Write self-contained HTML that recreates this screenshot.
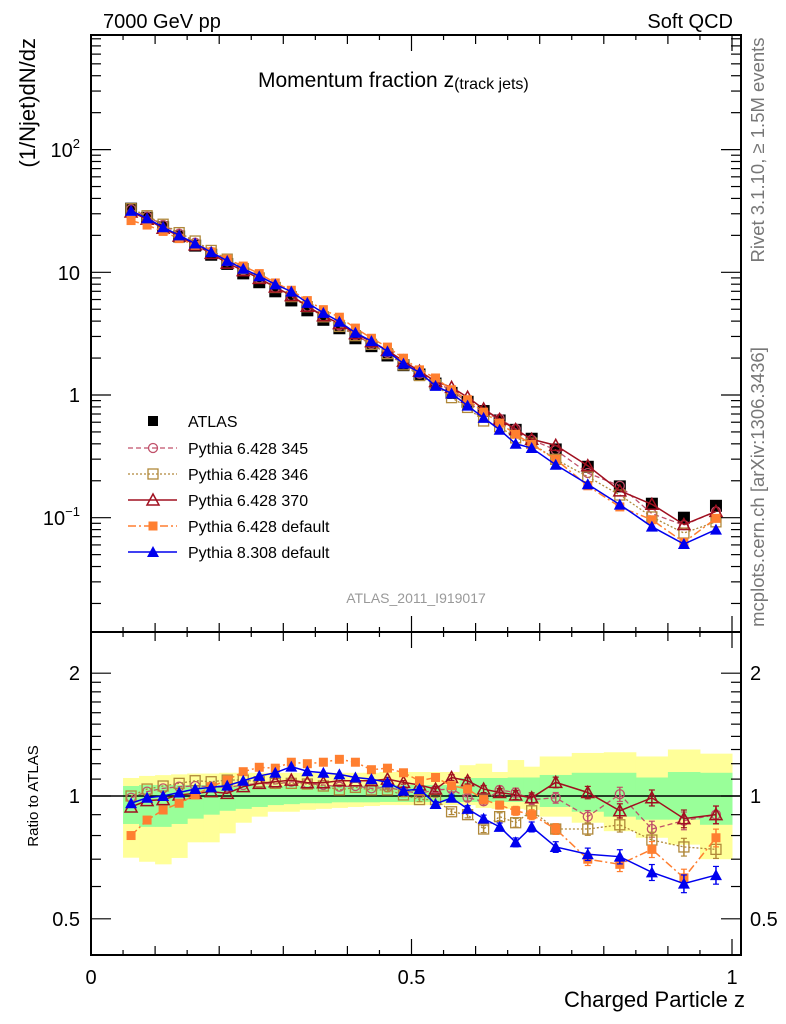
<!DOCTYPE html>
<html><head><meta charset="utf-8"><style>
body{margin:0;background:#fff;}
svg{display:block;font-family:"Liberation Sans",sans-serif;}
</style></head><body>
<svg id="chart" width="786" height="1024" viewBox="0 0 786 1024" xmlns="http://www.w3.org/2000/svg">
<rect x="0" y="0" width="786" height="1024" fill="#fff"/>
<g id="bands"></g><g id="series"></g><g id="axes"></g>
<text x="103" y="28" font-size="20">7000 GeV pp</text>
<text x="733" y="28" font-size="20" text-anchor="end">Soft QCD</text>
<text x="258" y="87" font-size="21">Momentum fraction z<tspan font-size="16" dy="2">(track jets)</tspan></text>
<text transform="translate(35,38) rotate(-90)" font-size="22" text-anchor="end">(1/Njet)dN/dz</text>
<text transform="translate(38,796) rotate(-90)" font-size="15" text-anchor="middle">Ratio to ATLAS</text>
<text x="745" y="1007" font-size="22" text-anchor="end">Charged Particle z</text>
<text transform="translate(764,150) rotate(-90)" font-size="18.5" fill="#777" text-anchor="middle">Rivet 3.1.10, ≥ 1.5M events</text>
<text transform="translate(764,487) rotate(-90)" font-size="18.5" fill="#777" text-anchor="middle">mcplots.cern.ch [arXiv:1306.3436]</text>
<text x="416" y="603" font-size="14" fill="#999" text-anchor="middle">ATLAS_2011_I919017</text>
<g id="legend"></g>
</svg>
<script>
const zVals=[0.0625,0.0875,0.1125,0.1375,0.1625,0.1875,0.2125,0.2375,0.2625,0.2875,0.3125,0.3375,0.3625,0.3875,0.4125,0.4375,0.4625,0.4875,0.5125,0.5375,0.5625,0.5875,0.6125,0.6375,0.6625,0.6875,0.725,0.775,0.825,0.875,0.925,0.975];
const binLo=[0.05,0.075,0.1,0.125,0.15,0.175,0.2,0.225,0.25,0.275,0.3,0.325,0.35,0.375,0.4,0.425,0.45,0.475,0.5,0.525,0.55,0.575,0.6,0.625,0.65,0.675,0.7,0.75,0.8,0.85,0.9,0.95];
const binHi=[0.075,0.1,0.125,0.15,0.175,0.2,0.225,0.25,0.275,0.3,0.325,0.35,0.375,0.4,0.425,0.45,0.475,0.5,0.525,0.55,0.575,0.6,0.625,0.65,0.675,0.7,0.75,0.8,0.85,0.9,0.95,1.0];
const atlasVals=[33,27.8,23.3,19.6,16.5,13.9,11.7,9.8,8.3,7.0,5.9,4.9,4.1,3.5,2.9,2.5,2.1,1.75,1.47,1.24,1.04,0.88,0.74,0.62,0.52,0.44,0.36,0.26,0.18,0.13,0.10,0.125];
const ratio345=[0.99,1.025,1.044,1.054,1.058,1.054,1.05,1.064,1.074,1.07,1.084,1.074,1.064,1.054,1.058,1.044,1.05,1.03,1.015,1.035,1.04,0.99,0.97,1.035,1.02,0.98,0.99,0.89,1.01,0.83,0.87,0.9];
const ratio346=[1.0,1.04,1.058,1.074,1.09,1.084,1.094,1.094,1.084,1.074,1.074,1.07,1.058,1.035,1.05,1.035,1.035,1.006,0.98,0.98,0.915,0.9,0.83,0.89,0.86,0.92,0.83,0.83,0.85,0.78,0.75,0.74];
const ratio370=[0.94,0.974,0.98,1.006,1.015,1.025,1.015,1.054,1.074,1.084,1.094,1.078,1.078,1.09,1.09,1.09,1.1,1.08,1.064,1.04,1.11,1.09,1.04,1.02,1.006,0.99,1.08,1.02,0.92,0.99,0.88,0.9];
const ratioP6def=[0.8,0.873,0.924,0.96,1.006,1.054,1.094,1.147,1.176,1.17,1.21,1.2,1.21,1.23,1.21,1.16,1.17,1.14,1.09,1.11,1.06,1.04,0.98,0.95,0.92,0.9,0.83,0.7,0.68,0.74,0.63,0.79];
const ratioP8def=[0.96,0.99,1.0,1.02,1.04,1.05,1.06,1.09,1.12,1.14,1.18,1.15,1.14,1.13,1.11,1.1,1.08,1.03,1.04,0.956,0.99,0.93,0.88,0.84,0.77,0.84,0.75,0.72,0.71,0.65,0.61,0.64];
const relErr=[0.005,0.005,0.005,0.005,0.005,0.005,0.005,0.005,0.005,0.006,0.006,0.006,0.007,0.007,0.008,0.008,0.01,0.01,0.012,0.014,0.016,0.018,0.02,0.022,0.025,0.028,0.03,0.035,0.04,0.045,0.05,0.05];
const yellowUp=[1.107,1.12,1.125,1.13,1.135,1.135,1.14,1.14,1.14,1.14,1.14,1.14,1.14,1.14,1.14,1.14,1.145,1.145,1.145,1.145,1.145,1.19,1.2,1.145,1.225,1.18,1.25,1.275,1.28,1.25,1.3,1.27];
const yellowLo=[0.706,0.69,0.68,0.705,0.77,0.77,0.81,0.86,0.89,0.915,0.915,0.925,0.93,0.935,0.94,0.945,0.95,0.95,0.95,0.95,0.95,0.95,0.935,0.93,0.93,0.925,0.89,0.86,0.82,0.79,0.76,0.70];
const greenUp=[1.058,1.064,1.064,1.064,1.064,1.064,1.06,1.06,1.06,1.06,1.06,1.06,1.06,1.06,1.06,1.06,1.06,1.064,1.064,1.064,1.064,1.107,1.107,1.107,1.11,1.11,1.126,1.14,1.14,1.11,1.145,1.14];
const greenLo=[0.854,0.84,0.84,0.854,0.88,0.9,0.92,0.93,0.94,0.95,0.955,0.96,0.96,0.965,0.965,0.965,0.967,0.967,0.967,0.967,0.967,0.967,0.967,0.967,0.967,0.967,0.94,0.915,0.89,0.875,0.875,0.85];
const legendLabels=["ATLAS","Pythia 6.428 345","Pythia 6.428 346","Pythia 6.428 370","Pythia 6.428 default","Pythia 8.308 default"];

const NS="http://www.w3.org/2000/svg";
const X0=91,X1=741,MT=35,MB=632,RB=955;
const xs=z=>X0+z*641;
const ym=v=>395-122.7*Math.log10(v);
const yr=r=>796-408*Math.log10(r);
function mk(tag,parent,attrs){const e=document.createElementNS(NS,tag);for(const k in attrs)e.setAttribute(k,attrs[k]);parent.appendChild(e);return e;}
const bands=document.getElementById('bands'),ser=document.getElementById('series'),axes=document.getElementById('axes'),leg=document.getElementById('legend');

for(let i=0;i<zVals.length;i++){
 const a=mk('rect',bands,{x:xs(binLo[i]),y:yr(yellowUp[i]),width:xs(binHi[i])-xs(binLo[i])+0.5,height:yr(yellowLo[i])-yr(yellowUp[i]),fill:'#ffff99'});
 
 
}
for(let i=0;i<zVals.length;i++){
 const a=mk('rect',bands,{x:xs(binLo[i]),y:yr(greenUp[i]),width:xs(binHi[i])-xs(binLo[i])+0.5,height:yr(greenLo[i])-yr(greenUp[i]),fill:'#99ff99'});
 
 
}
const unity=mk('line',bands,{x1:X0,x2:X1,y1:yr(1),y2:yr(1),stroke:'#000','stroke-width':1.5});



function marker(g,type,x,y,color,s){
 s=s||5;
 if(type==='circle')return mk('circle',g,{cx:x,cy:y,r:s-0.5,fill:'none',stroke:color,'stroke-width':1.3});
 if(type==='square')return mk('rect',g,{x:x-s,y:y-s,width:2*s,height:2*s,fill:'none',stroke:color,'stroke-width':1.3});
 if(type==='otri')return mk('polygon',g,{points:`${x},${y-s-1} ${x-s-1},${y+s} ${x+s+1},${y+s}`,fill:'none',stroke:color,'stroke-width':1.5});
 if(type==='ftri')return mk('polygon',g,{points:`${x},${y-s-1} ${x-s-1},${y+s} ${x+s+1},${y+s}`,fill:color});
 if(type==='fsq')return mk('rect',g,{x:x-s+0.5,y:y-s+0.5,width:2*s-1,height:2*s-1,fill:color});
 return mk('rect',g,{x:x-s,y:y-s,width:2*s,height:2*s,fill:color});
}
const seriesDefs=[
 {name:'pythia6-345',ratio:ratio345,color:'#c0506a',dash:'5,3',m:'circle',w:1.3},
 {name:'pythia6-346',ratio:ratio346,color:'#b0883a',dash:'2,2',m:'square',w:1.3},
 {name:'pythia6-370',ratio:ratio370,color:'#a01020',dash:'',m:'otri',w:1.5},
 {name:'pythia6-default',ratio:ratioP6def,color:'#ff7f30',dash:'8,3,2,3',m:'fsq',w:1.5},
 {name:'pythia8-default',ratio:ratioP8def,color:'#0000ee',dash:'',m:'ftri',w:1.5}
];
const ga=mk('g',ser,{});


for(let i=0;i<zVals.length;i++){const p=marker(ga,'bsq',xs(zVals[i]),ym(atlasVals[i]),'#000',6);
 
 }
seriesDefs.forEach(s=>{
 const gm=mk('g',ser,{});
 
 
 const gr=mk('g',ser,{});
 
 
 const pm=zVals.map((z,i)=>xs(z)+','+ym(atlasVals[i]*s.ratio[i])).join(' ');
 const pr=zVals.map((z,i)=>xs(z)+','+yr(s.ratio[i])).join(' ');
 mk('polyline',gm,{points:pm,fill:'none',stroke:s.color,'stroke-width':s.w,'stroke-dasharray':s.dash});
 mk('polyline',gr,{points:pr,fill:'none',stroke:s.color,'stroke-width':s.w,'stroke-dasharray':s.dash});
 zVals.forEach((z,i)=>{
  const x=xs(z);
  const a=marker(gm,s.m,x,ym(atlasVals[i]*s.ratio[i]),s.color,5);
  
  
  const r=s.ratio[i],e=relErr[i]*r;
  if(relErr[i]>0.009){mk('line',gr,{x1:x,x2:x,y1:yr(r+e),y2:yr(r-e),stroke:s.color,'stroke-width':1.5});
   mk('line',gr,{x1:x-3,x2:x+3,y1:yr(r+e),y2:yr(r+e),stroke:s.color,'stroke-width':1.2});
   mk('line',gr,{x1:x-3,x2:x+3,y1:yr(r-e),y2:yr(r-e),stroke:s.color,'stroke-width':1.2});}
  const b=marker(gr,s.m,x,yr(r),s.color,5);
  
  
 });
});

[[MT,MB,'main-frame'],[MB,RB,'ratio-frame']].forEach(f=>{const r=mk('rect',axes,{x:X0,y:f[0],width:X1-X0,height:f[1]-f[0],fill:'none',stroke:'#000','stroke-width':2});
 
 });
function tk(x1,y1,x2,y2){mk('line',axes,{x1,y1,x2,y2,stroke:'#000','stroke-width':1.2});}
function txt(x,y,s,anchor,size,name){const t=mk('text',axes,{x,y,'font-size':size,'text-anchor':anchor});t.innerHTML=s;return t;}
for(let k=0;k<=20;k++){const z=k*0.05,x=xs(z);const L=(k%10===0)?16:(k%2===0?9:5);
 [RB,MB].forEach(yb=>tk(x,yb,x,yb-L));[MT,MB].forEach(yt=>tk(x,yt,x,yt+L));}
txt(xs(0),984,'0','middle',20,'x-tick-label');txt(xs(0.5),984,'0.5','middle',20,'x-tick-label');txt(xs(1),984,'1','middle',20,'x-tick-label');
for(let d=-2;d<=2;d++)for(let m=1;m<=9;m++){const v=m*Math.pow(10,d),y=ym(v);if(y<MT||y>MB)continue;const L=m===1?20:10;tk(X0,y,X0+L,y);tk(X1,y,X1-L,y);}
txt(80,157,'10<tspan font-size="13" dy="-9">2</tspan>','end',20,'y-tick-label');
txt(80,280,'10','end',20,'y-tick-label');
txt(80,402,'1','end',20,'y-tick-label');
txt(80,525,'10<tspan font-size="13" dy="-9">−1</tspan>','end',20,'y-tick-label');
[0.5,0.6,0.7,0.8,0.9,1,1.1,1.2,1.3,1.4,1.5,1.6,1.7,1.8,1.9,2].forEach(r=>{const y=yr(r);const L=(r===0.5||r===1||r===2)?20:10;tk(X0,y,X0+L,y);tk(X1,y,X1-L,y);});
[['2',2],['1',1],['0.5',0.5]].forEach(a=>{txt(80,yr(a[1])+7,a[0],'end',20,'ratio-tick-label');txt(750,yr(a[1])+7,a[0],'start',20,'ratio-tick-label-right');});

const lyl=[421,448,474,500,526,552];
const ld=[{m:'bsq',c:'#000',d:null},{m:'circle',c:'#c0506a',d:'5,3',w:1.3},{m:'square',c:'#b0883a',d:'2,2',w:1.3},{m:'otri',c:'#a01020',d:'',w:1.5},{m:'fsq',c:'#ff7f30',d:'8,3,2,3',w:1.5},{m:'ftri',c:'#0000ee',d:'',w:1.5}];
legendLabels.forEach((lab,i)=>{
 const g=mk('g',leg,{});
 
 
 const y=lyl[i];
 if(ld[i].d!==null)mk('line',g,{x1:128,x2:177,y1:y,y2:y,stroke:ld[i].c,'stroke-width':ld[i].w,'stroke-dasharray':ld[i].d});
 marker(g,ld[i].m,153,y,ld[i].c,5);
 const t=mk('text',g,{x:188,y:y+6,'font-size':16});t.textContent=lab;
});
</script>
</body></html>
